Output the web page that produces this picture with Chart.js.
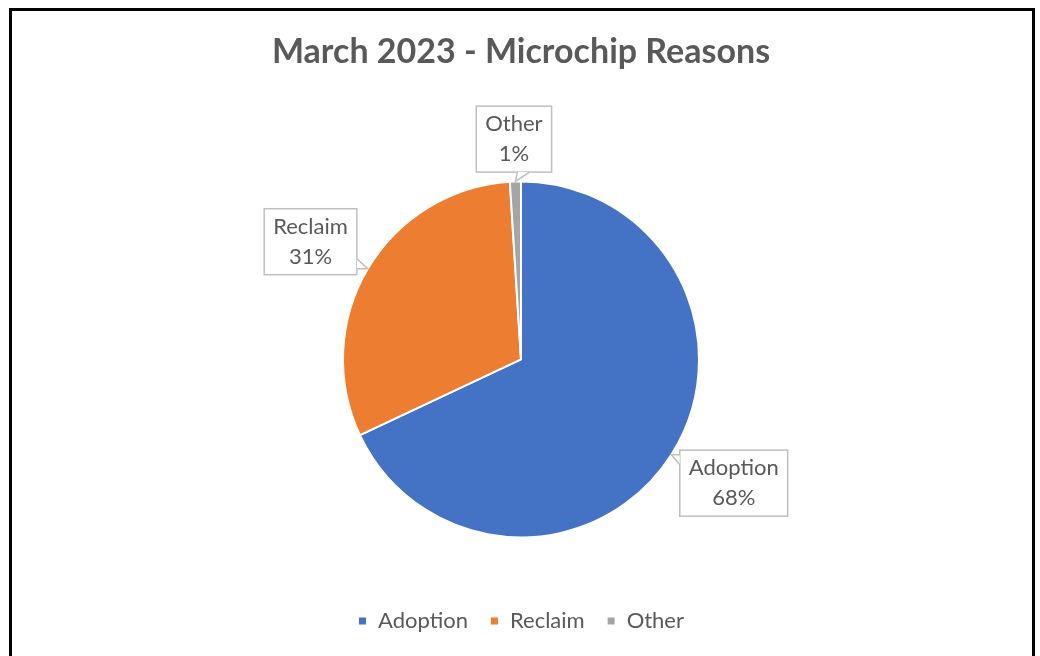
<!DOCTYPE html>
<html>
<head>
<meta charset="utf-8">
<script src="https://cdn.jsdelivr.net/npm/chart.js@4"></script>
<style>
  body { margin: 0; background: #fff; }
  #wrap { position: relative; width: 1040px; height: 656px; overflow: hidden; }
  #frame { position: absolute; left: 9px; top: 8px; width: 1020px; height: 700px;
           border: 3px solid #000; border-bottom: none; pointer-events: none; }
  canvas { position: absolute; left: 0; top: 0; }
</style>
</head>
<body>
<div id="wrap">
  <canvas id="myChart" width="1040" height="656"></canvas>
  <div id="frame"></div>
</div>
<script>
const reasons = ["Adoption", "Reclaim", "Other"];
const shares = [68, 31, 1];
const sliceColors = ["#4472C4", "#ED7D31", "#A5A5A5"];

const textColor = "#595959";
const fontFamily = "Lato, 'Open Sans', sans-serif";

// callout boxes like the excel data labels
const callouts = {
    id: "callouts",
    afterDatasetsDraw(chart) {
        const ctx = chart.ctx;
        const meta = chart.getDatasetMeta(0);
        const total = shares.reduce((a, b) => a + b, 0);
        ctx.save();
        ctx.font = "22px " + fontFamily;
        meta.data.forEach(function(arc, i) {
            const p = arc.getProps(["x", "y", "startAngle", "endAngle", "outerRadius"], true);
            const mid = (p.startAngle + p.endAngle) / 2;
            const cos = Math.cos(mid), sin = Math.sin(mid);
            const lines = [reasons[i], Math.round(shares[i] / total * 100) + "%"];
            const w = Math.max(...lines.map(l => ctx.measureText(l).width)) + 18;
            const h = 66;
            const gap = 9 + 13 * Math.abs(cos);
            const cx = p.x + (p.outerRadius + gap) * cos + cos * w / 2;
            const cy = p.y + (p.outerRadius + gap) * sin + sin * h / 2;
            const left = cx - w / 2, top = cy - h / 2;
            const tipX = p.x + p.outerRadius * cos;
            const tipY = p.y + p.outerRadius * sin;

            ctx.fillStyle = "#fff";
            ctx.strokeStyle = "#BFBFBF";
            ctx.lineWidth = 1.5;
            ctx.fillRect(left, top, w, h);
            ctx.strokeRect(left, top, w, h);

            // wedge toward the slice
            const dx = (tipX - cx) / (w / 2), dy = (tipY - cy) / (h / 2);
            let b1, b2;
            if (Math.abs(dx) > Math.abs(dy)) {
                const ex = dx < 0 ? left : left + w;
                const py = Math.min(Math.max(tipY, top + 4), top + h - 4);
                const q = py + (cy > py ? 10 : -10);
                b1 = [ex, py]; b2 = [ex, q];
            } else {
                const ey = dy < 0 ? top : top + h;
                const px = Math.min(Math.max(tipX, left + 4), left + w - 4);
                const q = px + (px < cx - 15 ? 12 : px > cx + 15 ? -12 : 12);
                b1 = [px + 2, ey]; b2 = [q + 2, ey];
            }
            ctx.beginPath();
            ctx.moveTo(b1[0], b1[1]);
            ctx.lineTo(tipX, tipY);
            ctx.lineTo(b2[0], b2[1]);
            ctx.closePath();
            ctx.fill();
            ctx.beginPath();
            ctx.moveTo(b1[0], b1[1]);
            ctx.lineTo(tipX, tipY);
            ctx.lineTo(b2[0], b2[1]);
            ctx.stroke();

            ctx.fillStyle = textColor;
            ctx.textAlign = "center";
            ctx.textBaseline = "middle";
            ctx.fillText(lines[0], cx, cy - 15);
            ctx.fillText(lines[1], cx, cy + 15);
        });
        ctx.restore();
    }
};

const ctx = document.getElementById("myChart").getContext("2d");
new Chart(ctx, {
    type: "pie",
    data: {
        labels: reasons,
        datasets: [{
            data: shares,
            backgroundColor: sliceColors,
            borderColor: "#fff",
            borderWidth: 2,
            radius: 178
        }]
    },
    options: {
        responsive: false,
        animation: false,
        layout: { padding: { left: 2, right: 0, top: 0, bottom: 14 } },
        plugins: {
            title: {
                display: true,
                text: "March 2023 - Microchip Reasons",
                color: textColor,
                font: { family: fontFamily, size: 34, weight: "bold" },
                padding: { top: 32, bottom: 58 }
            },
            legend: {
                position: "bottom",
                labels: {
                    color: textColor,
                    font: { family: fontFamily, size: 22 },
                    boxWidth: 9,
                    boxHeight: 9,
                    padding: 22
                }
            },
            tooltip: { enabled: false }
        }
    },
    plugins: [callouts]
});
</script>
</body>
</html>
